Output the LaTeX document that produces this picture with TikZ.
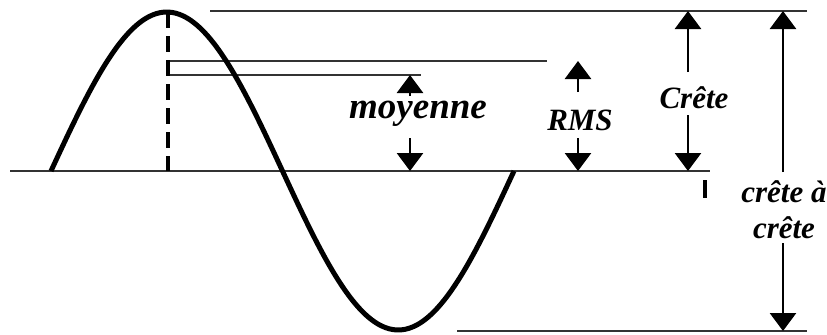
\documentclass[tikz,border=0pt]{standalone}
\usepackage{fontspec}
\setmainfont{Liberation Serif}
\usetikzlibrary{arrows.meta,positioning}

\begin{document}
\begin{tikzpicture}[
  x=0.5pt, y=-0.5pt,
  wave/.style={line width=2.5pt, black},
  guide/.style={line width=1pt, black!80},
  dimarrow/.style={line width=1.4pt, -{Triangle[width=13pt, length=9pt]}},
  lbl/.style={font=\bfseries\itshape\fontsize{15.5}{17}\selectfont, inner sep=0pt, anchor=base},
]
\useasboundingbox (0,0) rectangle (827,334);

%% -- Reference levels --------------------------------------------------
\coordinate (axL)   at (10,171);
\coordinate (axR)   at (710,171);
\coordinate (pkTop) at (168,12);
\coordinate (pkBot) at (168,171);
\coordinate (topL)  at (210,11);
\coordinate (topR)  at (807,11);
\coordinate (rmsL)  at (168,61);
\coordinate (rmsR)  at (547,61);
\coordinate (moyL)  at (168,75);
\coordinate (moyR)  at (421,75);
\coordinate (botL)  at (457,331);
\coordinate (botR)  at (807,331);

\draw[guide] (axL) -- (axR);
\draw[guide] (topL) -- (topR);
\draw[guide] (rmsL) -- (rmsR);
\draw[guide] (moyL) -- (moyR);
\draw[guide] (botL) -- (botR);

%% -- Sine wave ---------------------------------------------------------
\draw[wave] plot[domain=0:360, samples=120, smooth]
  ({51+1.28611*\x}, {171-159*sin(\x)});
\draw[line width=2pt, dash pattern=on 8pt off 4pt] (pkTop) -- (pkBot);

%% -- Labels ------------------------------------------------------------
\node[lbl, font=\bfseries\itshape\fontsize{18.5}{20}\selectfont] (moy) at (418,118) {moyenne};
\node[lbl] (rms)  at (580,130) {RMS};
\node[lbl] (cr)   at (694,108) {Crête};
\node[lbl] (cc1)  at (784,202) {crête à};
\node[lbl] (cc2)  at (784,238) {crête};

%% -- Dimension arrows --------------------------------------------------
\coordinate (moyA) at (410,96);  \coordinate (moyB) at (410,138);
\coordinate (rmsA) at (578,92);  \coordinate (rmsB) at (578,138);
\coordinate (crA)  at (688,72);  \coordinate (crB)  at (688,115);
\coordinate (ccA)  at (783,172); \coordinate (ccB)  at (783,243);

\draw[dimarrow] (moyA) -- (moyA |- moyR);
\draw[dimarrow] (moyB) -- (moyB |- axL);
\draw[dimarrow] (rmsA) -- (rmsA |- rmsR);
\draw[dimarrow] (rmsB) -- (rmsB |- axL);
\draw[dimarrow] (crA)  -- (crA |- topR);
\draw[dimarrow] (crB)  -- (crB |- axL);
\draw[dimarrow] (ccA)  -- (ccA |- topR);
\draw[dimarrow] (ccB)  -- (ccB |- botR);

%% small mark under the axis
\draw[line width=2pt] (705,180) -- (705,198);

\end{tikzpicture}
\end{document}
